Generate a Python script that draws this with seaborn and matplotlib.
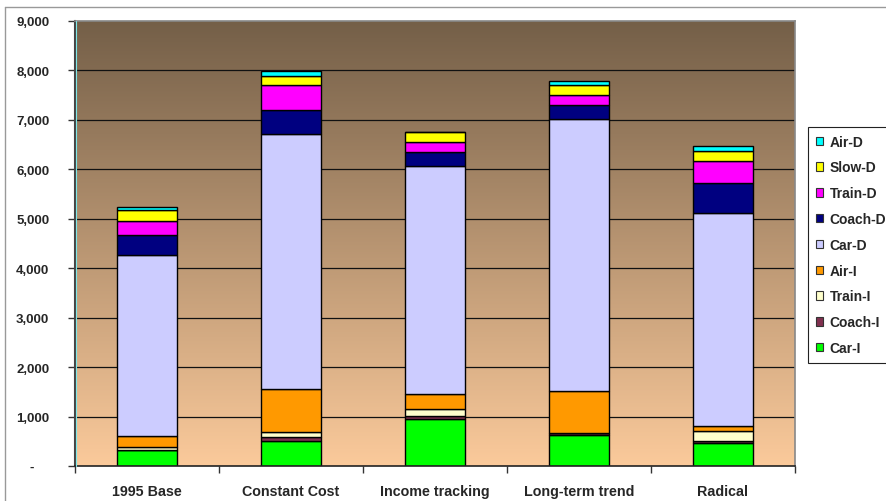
import matplotlib
matplotlib.use("Agg")
import matplotlib.pyplot as plt
import seaborn as sns
import numpy as np
from matplotlib.patches import Patch
from matplotlib.lines import Line2D
from matplotlib.ticker import FixedLocator, FuncFormatter

categories = ["1995 Base", "Constant Cost", "Income tracking", "Long-term trend", "Radical"]
car_i   = [315, 510, 955, 620, 460]
coach_i = [15, 70, 50, 45, 50]
train_i = [45, 100, 155, 0, 195]
air_i   = [240, 880, 300, 850, 110]
car_d   = [3660, 5150, 4600, 5495, 4310]
coach_d = [390, 490, 300, 290, 600]
train_d = [300, 505, 190, 200, 445]
slow_d  = [215, 190, 215, 200, 195]
air_d   = [55, 100, 0, 95, 110]

series_names = ["Car-I", "Coach-I", "Train-I", "Air-I", "Car-D", "Coach-D", "Train-D", "Slow-D", "Air-D"]
series_vals = [car_i, coach_i, train_i, air_i, car_d, coach_d, train_d, slow_d, air_d]
series_colors = ["#00FF00", "#80304F", "#FFFFCC", "#FF9900", "#CCCCFF", "#000080", "#FF00FF", "#FFFF00", "#00FFFF"]
y_ticks = [0, 1000, 2000, 3000, 4000, 5000, 6000, 7000, 8000, 9000]

sns.set_style("white")
plt.rcParams['font.family'] = ['Liberation Sans', 'DejaVu Sans']

W, H = 887, 502
fig = plt.figure(figsize=(W / 100, H / 100), dpi=100)
ax = fig.add_axes([75 / W, 1 - 467 / H, (795 - 75) / W, (467 - 22) / H])

# gradient background
top = np.array([0x74, 0x5F, 0x48]) / 255
bot = np.array([0xFB, 0xCA, 0x9B]) / 255
t = np.linspace(0, 1, 256)[:, None, None]
grad = top * (1 - t) + bot * t
ax.imshow(grad, extent=[-0.5, 4.5, 0, 9000], aspect="auto", origin="upper", zorder=0)

for yv in y_ticks[1:-1]:
    ax.axhline(yv, color="#111111", lw=0.9, zorder=0.5)

bottom = np.zeros(len(categories))
for name, vals, col in zip(series_names, series_vals, series_colors):
    sns.barplot(x=categories, y=vals, bottom=bottom, color=col, width=0.41,
                edgecolor="black", linewidth=1.0, errorbar=None, ax=ax, zorder=2,
                saturation=1)
    bottom = bottom + np.array(vals)

ax.set_xlim(-0.5, 4.5)
ax.set_ylim(0, 9000)
ax.yaxis.set_major_locator(FixedLocator(y_ticks))
ax.yaxis.set_major_formatter(FuncFormatter(lambda v, p: "-    " if v == 0 else f"{int(v):,}"))
ax.tick_params(axis="y", which="major", direction="out", length=5, width=1, color="#333333",
               pad=13.5, labelsize=9.5, left=True)
for lab in ax.get_yticklabels():
    lab.set_fontweight("bold")

ax.set_xticks(range(len(categories)))
ax.set_xticklabels(categories, fontweight="bold", fontsize=10.3)
ax.tick_params(axis="x", which="major", length=0, pad=13)
ax.set_xticks([i - 0.5 for i in range(len(categories) + 1)], minor=True)
ax.tick_params(axis="x", which="minor", direction="out", length=5, width=1, color="#333333", bottom=True)
ax.set_xlabel("")
ax.set_ylabel("")

for s in ["top", "right"]:
    ax.spines[s].set_color("#888888")
    ax.spines[s].set_linewidth(1.2)
ax.spines["left"].set_color("#444444")
ax.spines["left"].set_linewidth(1.5)
ax.spines["bottom"].set_color("#222222")
ax.spines["bottom"].set_linewidth(1.2)
# thin cyan inner line
ax.plot([0.002, 0.002], [0, 1], transform=ax.transAxes, color="#7FE8E8", lw=0.8, zorder=3, clip_on=False)

# legend
handles = [Patch(facecolor=c, edgecolor="#333333", linewidth=0.8, label=n)
           for n, c in zip(series_names, series_colors)][::-1]
leg = fig.legend(handles=handles, loc="upper left", bbox_to_anchor=(808 / W, 1 - 128 / H),
                 frameon=True, fancybox=False, edgecolor="#222222", framealpha=1,
                 handlelength=0.55, handleheight=0.55, handletextpad=0.45, labelspacing=0.85,
                 borderpad=0.55, borderaxespad=0, prop={"weight": "bold", "size": 10})
leg.get_frame().set_linewidth(0.8)

# chart border
fig.add_artist(Line2D([5 / W, 1], [1 - 8 / H, 1 - 8 / H], color="#999999", lw=1))
fig.add_artist(Line2D([5 / W, 5 / W], [0, 1 - 8 / H], color="#999999", lw=1))

fig.savefig("out.png", dpi=100)
